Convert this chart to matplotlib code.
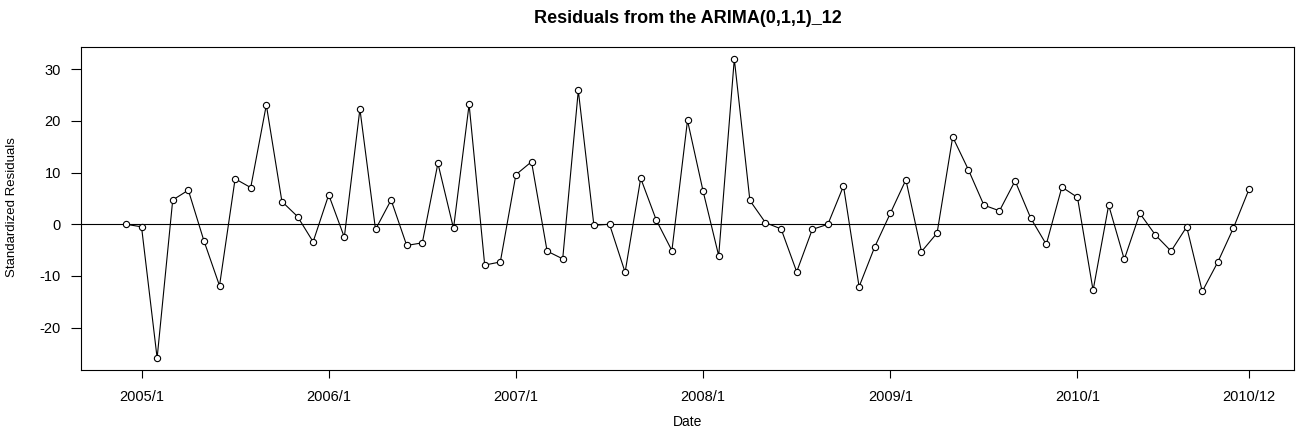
import numpy as np
import matplotlib
matplotlib.use('Agg')
import matplotlib.pyplot as plt

plt.rcParams['font.family'] = ['Liberation Sans', 'DejaVu Sans']

# monthly standardized residuals, Dec 2004 .. Dec 2010
resid = [
    0.0, -0.5, -25.9, 4.7, 6.6, -3.2, -11.9, 8.8, 7.1, 23.1, 4.4, 1.5, -3.4,
    5.7, -2.5, 22.3, -1.0, 4.7, -4.1, -3.6, 11.8, -0.8, 23.2, -7.9, -7.3,
    9.6, 12.1, -5.2, -6.7, 25.9, -0.2, 0.0, -9.3, 8.9, 0.8, -5.1,
    20.1, 6.4, -6.1, 32.0, 4.6, 0.3, -0.9, -9.2, -1.0, 0.0, 7.4, -12.1,
    -4.4, 2.1, 8.6, -5.3, -1.7, 16.9, 10.6, 3.7, 2.6, 8.4, 1.2, -3.9,
    7.2, 5.2, -12.8, 3.7, -6.8, 2.1, -2.1, -5.2, -0.5, -13.0, -7.3, -0.7, 6.8,
]
month_idx = np.arange(len(resid))          # 0 = 2004/12
tick_idx = [1, 13, 25, 37, 49, 61, 72]
tick_lab = ['2005/1', '2006/1', '2007/1', '2008/1', '2009/1', '2010/1', '2010/12']
y_ticks = [-20, -10, 0, 10, 20, 30]

fig = plt.figure(figsize=(12.96, 4.37), dpi=100)
ax = fig.add_axes([81/1296, 1 - 370/437, (1294 - 81)/1296, (370 - 47)/437])

ax.plot(month_idx, resid, '-', color='black', lw=0.8, zorder=2)
ax.plot(month_idx, resid, 'o', mfc='white', mec='black', ms=4.5, mew=0.8, zorder=3)
ax.axhline(0, color='black', lw=0.8, zorder=1)

# R-style 4% padding on both axes
lo, hi = min(resid), max(resid)
ax.set_xlim(-0.04 * 72, 72 * 1.04)
ax.set_ylim(lo - 0.04 * (hi - lo), hi + 0.04 * (hi - lo))

ax.set_xticks(tick_idx)
ax.set_xticklabels(tick_lab, fontsize=10.5)
ax.set_yticks(y_ticks)
ax.set_yticklabels([str(v) for v in y_ticks], fontsize=10.5)
ax.tick_params(axis='x', length=5.5, width=0.8, pad=9)
ax.tick_params(axis='y', length=7.5, width=0.8, pad=7)
for s in ax.spines.values():
    s.set_linewidth(0.8)

ax.set_title('Residuals from the ARIMA(0,1,1)_12', fontsize=13,
             fontweight='bold', pad=17)
ax.set_xlabel('Date', fontsize=10, labelpad=8)
fig.text(12.5/1296, 1 - 207/437, 'Standardized Residuals', rotation=90,
         fontsize=9.5, ha='center', va='center')

fig.savefig('out.png', dpi=100)
